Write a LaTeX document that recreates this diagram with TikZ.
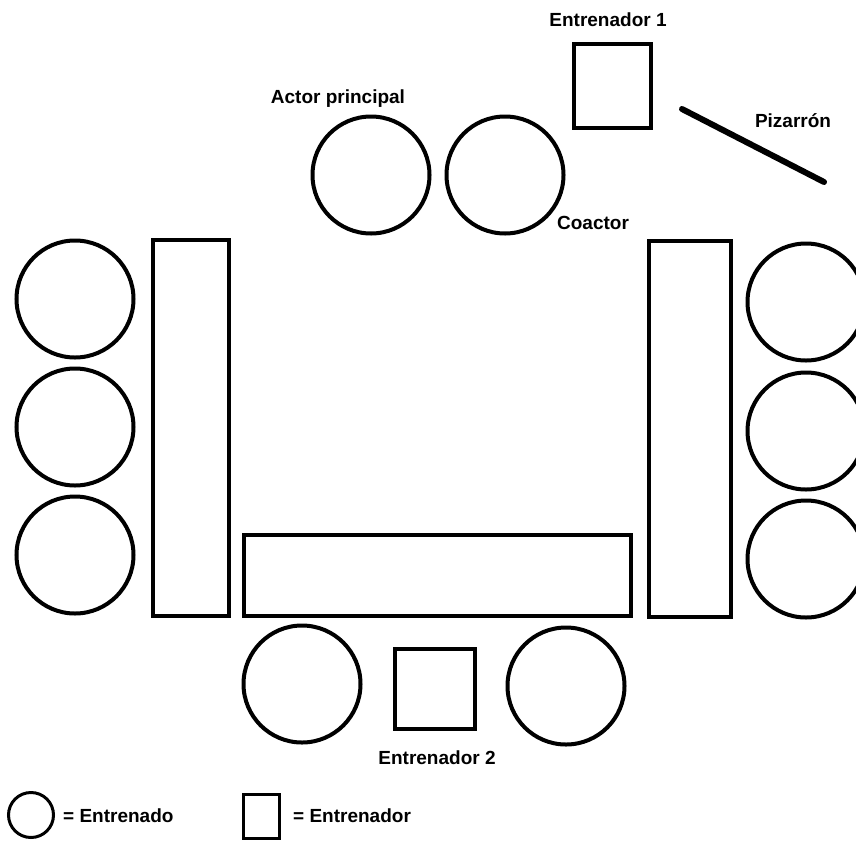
\documentclass[tikz,border=0pt]{standalone}
\usepackage{fontspec}
\setmainfont{Liberation Sans}
\begin{document}
\begin{tikzpicture}[x=1pt,y=-1pt,
  trainee/.style={draw,circle,line width=4pt,minimum size=117pt,inner sep=0pt},
  trainer/.style={draw,rectangle,line width=4pt,inner sep=0pt},
  tablebox/.style={draw,rectangle,line width=4pt,inner sep=0pt},
  lbl/.style={font=\fontsize{19}{22}\selectfont\bfseries,inner sep=0pt}]
\useasboundingbox (0,0) rectangle (856,841);
\clip (0,0) rectangle (856,841);
% top
\node[trainer,minimum width=77pt,minimum height=84pt] (e1) at (612,86) {};
\node[lbl] (le1) at (608,20) {Entrenador 1};
\coordinate (pz1) at (682,109);
\coordinate (pz2) at (824,182);
\draw[line width=6pt,line cap=round] (pz1) -- (pz2);
\node[lbl] (lpz) at (793,121) {Pizarrón};
\node[trainee] (ap) at (371,175) {};
\node[trainee] (co) at (505,175) {};
\node[lbl] (lap) at (338,99) {Actor principal};
\node[lbl] (lco) at (593,223) {Coactor};
% tables
\node[tablebox,minimum width=76pt,minimum height=376pt] (tl) at (191,428) {};
\node[tablebox,minimum width=82pt,minimum height=376pt] (tr) at (689.5,429) {};
\node[tablebox,minimum width=387pt,minimum height=81pt] (tb) at (437.5,575.5) {};
% left circles
\node[trainee] (l1) at (75,299) {};
\node[trainee] (l2) at (75,427) {};
\node[trainee] (l3) at (75,555) {};
% right circles
\node[trainee] (r1) at (806,302) {};
\node[trainee] (r2) at (806,431) {};
\node[trainee] (r3) at (806,559) {};
% bottom
\node[trainee] (b1) at (302,684) {};
\node[trainee] (b2) at (566,686) {};
\node[trainer,minimum width=80pt,minimum height=80pt] (e2) at (435,689) {};
\node[lbl] (le2) at (437,758) {Entrenador 2};
% legend
\node[draw,circle,line width=3pt,minimum size=45pt,inner sep=0pt] (lgc) at (31,815) {};
\node[lbl,anchor=west] (lgct) at (63,816) {= Entrenado};
\node[draw,rectangle,line width=3pt,minimum width=36pt,minimum height=44pt,inner sep=0pt] (lgs) at (261,816) {};
\node[lbl,anchor=west] (lgst) at (293,816) {= Entrenador};
\end{tikzpicture}
\end{document}
